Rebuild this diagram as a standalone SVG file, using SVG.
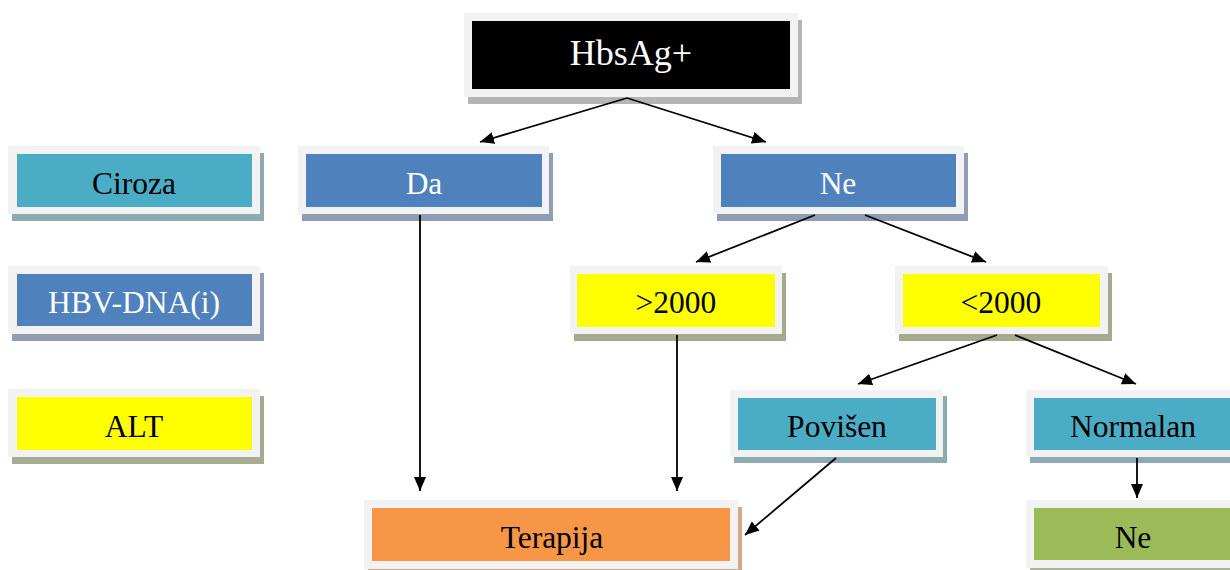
<svg xmlns="http://www.w3.org/2000/svg" width="1230" height="570" viewBox="0 0 1230 570">
<style>
.frame{fill:#f2f2f2}
.t{font-family:"Liberation Serif","Times New Roman",serif;font-size:31.5px;text-anchor:middle}
.w{fill:#ffffff}
.k{fill:#000000}
.blue{fill:#4f81bd}.blueS{fill:#8e9db2}
.teal{fill:#4bacc6}.tealS{fill:#8eaab1}
.yel{fill:#ffff00}.yelS{fill:#a6aa8f}
.blk{fill:#000000}.blkS{fill:#b5b5b5}
.org{fill:#f79646}.orgS{fill:#d0a98b}
.grn{fill:#9bbb59}.grnS{fill:#a8b596}
.c{stroke:#000;stroke-width:1.8;fill:none;marker-end:url(#ah)}
</style>
<defs>
<marker id="ah" markerUnits="userSpaceOnUse" markerWidth="14" markerHeight="12" refX="14" refY="6" orient="auto">
<path d="M0,0 L14,6 L0,12 z" fill="#000"/>
</marker>
</defs>
<rect width="1230" height="570" fill="#ffffff"/>
<g id="hbsag">
<rect class="blkS" x="468" y="20" width="334" height="84"/>
<rect class="frame" x="464" y="13" width="334" height="84"/>
<rect class="blk" x="472" y="21" width="318" height="68"/>
<text class="t w" x="631" y="65" style="font-size:36px">HbsAg+</text>
</g>
<g id="ciroza">
<rect class="tealS" x="12" y="153" width="252" height="68"/>
<rect class="frame" x="8" y="146" width="252" height="68"/>
<rect class="teal" x="17" y="154" width="235" height="53"/>
<text class="t k" x="134" y="194">Ciroza</text>
</g>
<g id="hbvdna">
<rect class="blueS" x="12" y="273" width="252" height="68"/>
<rect class="frame" x="8" y="266" width="252" height="68"/>
<rect class="blue" x="17" y="274" width="235" height="52"/>
<text class="t w" x="134" y="313">HBV-DNA(i)</text>
</g>
<g id="alt">
<rect class="yelS" x="12" y="396" width="252" height="68"/>
<rect class="frame" x="8" y="389" width="252" height="68"/>
<rect class="yel" x="17" y="397" width="235" height="53"/>
<text class="t k" x="134" y="437">ALT</text>
</g>
<g id="da">
<rect class="blueS" x="302" y="153" width="251" height="68"/>
<rect class="frame" x="298" y="146" width="251" height="68"/>
<rect class="blue" x="306" y="154" width="236" height="53"/>
<text class="t w" x="424" y="194">Da</text>
</g>
<g id="ne1">
<rect class="blueS" x="717" y="153" width="251" height="68"/>
<rect class="frame" x="713" y="146" width="251" height="68"/>
<rect class="blue" x="721" y="154" width="235" height="53"/>
<text class="t w" x="838" y="194">Ne</text>
</g>
<g id="gt2000">
<rect class="yelS" x="574" y="273" width="212" height="68"/>
<rect class="frame" x="570" y="266" width="212" height="68"/>
<rect class="yel" x="577" y="274" width="198" height="53"/>
<text class="t k" x="676" y="313">&gt;2000</text>
</g>
<g id="lt2000">
<rect class="yelS" x="899" y="273" width="213" height="68"/>
<rect class="frame" x="895" y="266" width="213" height="68"/>
<rect class="yel" x="903" y="274" width="197" height="53"/>
<text class="t k" x="1001" y="313">&lt;2000</text>
</g>
<g id="povisen">
<rect class="tealS" x="734" y="396" width="213" height="67"/>
<rect class="frame" x="730" y="390" width="213" height="67"/>
<rect class="teal" x="738" y="398" width="198" height="52"/>
<text class="t k" x="837" y="437">Povišen</text>
</g>
<g id="normalan">
<rect class="tealS" x="1030" y="396" width="214" height="67"/>
<rect class="frame" x="1026" y="390" width="214" height="67"/>
<rect class="teal" x="1034" y="398" width="198" height="52"/>
<text class="t k" x="1133" y="437">Normalan</text>
</g>
<g id="terapija">
<rect class="orgS" x="368" y="507" width="374" height="69"/>
<rect class="frame" x="364" y="500" width="374" height="69"/>
<rect class="org" x="372" y="508" width="358" height="53"/>
<text class="t k" x="552" y="548">Terapija</text>
</g>
<g id="ne2">
<rect class="grnS" x="1030" y="507" width="214" height="68"/>
<rect class="frame" x="1026" y="500" width="214" height="68"/>
<rect class="grn" x="1034" y="508" width="198" height="52"/>
<text class="t k" x="1133" y="548">Ne</text>
</g>
<g id="connectors">
<line class="c" x1="627" y1="98" x2="480" y2="142"/>
<line class="c" x1="627" y1="98" x2="766" y2="142"/>
<line class="c" x1="815" y1="215" x2="696" y2="262"/>
<line class="c" x1="865" y1="215" x2="986" y2="262"/>
<line class="c" x1="997" y1="335" x2="858" y2="384"/>
<line class="c" x1="1015" y1="335" x2="1136" y2="384"/>
<line class="c" x1="420" y1="215" x2="420" y2="491"/>
<line class="c" x1="677" y1="335" x2="677" y2="491"/>
<line class="c" x1="836" y1="458" x2="745" y2="535"/>
<line class="c" x1="1137" y1="458" x2="1137" y2="498"/>
</g>
</svg>
